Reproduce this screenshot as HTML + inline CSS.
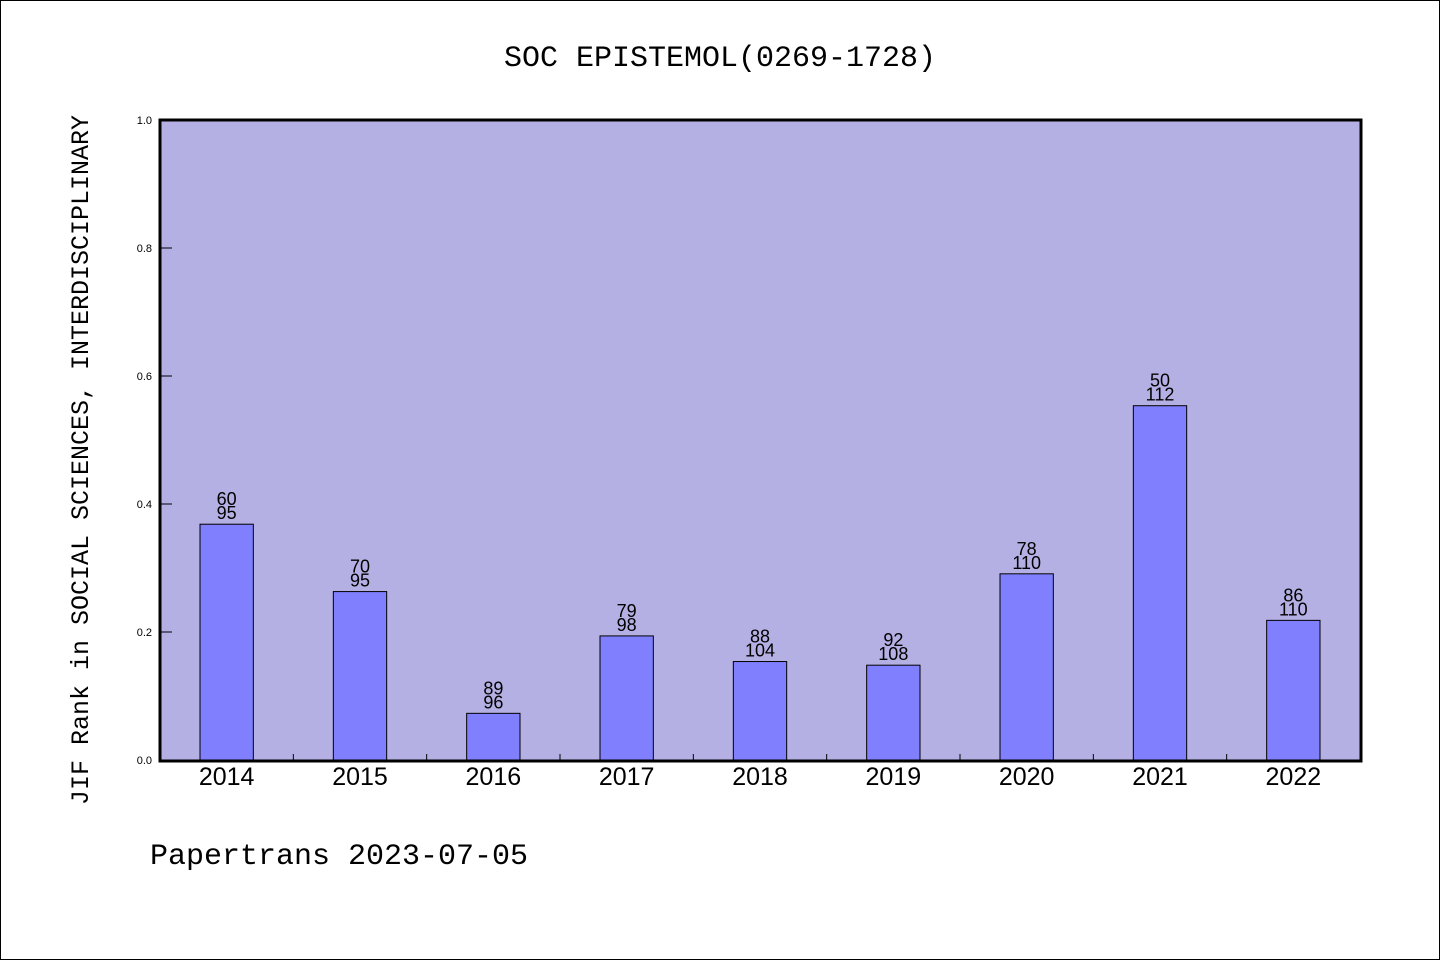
<!DOCTYPE html>
<html><head><meta charset="utf-8"><style>
body{margin:0;background:#fff;}
svg{display:block;font-family:"Liberation Mono","DejaVu Sans Mono",monospace;}
</style></head><body>
<svg width="1440" height="960" xmlns="http://www.w3.org/2000/svg">
<rect x="0.5" y="0.5" width="1439" height="959" fill="#fff" stroke="#000" stroke-width="1"/>
<text x="720" y="66" text-anchor="middle" font-size="30" fill="#000">SOC EPISTEMOL(0269-1728)</text>
<rect x="160" y="120" width="1201" height="641" fill="#b5b0e3"/>
<g id="bars"></g>
<rect x="160" y="120" width="1201" height="641" fill="none" stroke="#000" stroke-width="3"/>
<text transform="translate(88,460) rotate(-90)" text-anchor="middle" font-size="25" fill="#000">JIF Rank in SOCIAL SCIENCES, INTERDISCIPLINARY</text>
<text x="150" y="864" font-size="30" fill="#000">Papertrans 2023-07-05</text>
</svg>
<script>
const years=["2014","2015","2016","2017","2018","2019","2020","2021","2022"];
const ranks=[60,70,89,79,88,92,78,50,86];
const totals=[95,95,96,98,104,108,110,112,110];
const yTicks=[0,0.2,0.4,0.6,0.8,1.0];
const NS="http://www.w3.org/2000/svg";
const g=document.getElementById('bars');
const L=160,R=1360,T=120,B=760;
const band=(R-L)/years.length;
const xc=i=>L+band*(i+0.5);
const y=v=>B-v*(B-T);
function mk(tag,attrs,parent){const e=document.createElementNS(NS,tag);for(const k in attrs)e.setAttribute(k,attrs[k]);(parent||g).appendChild(e);return e;}
yTicks.forEach(t=>{
 const l=mk('line',{x1:L,x2:L+12,y1:y(t),y2:y(t),stroke:'#000','stroke-width':1});
 
 
 const tx=mk('text',{x:152,y:y(t)+4,'text-anchor':'end','font-size':11,'font-family':'Liberation Sans, sans-serif'});
 tx.textContent=t.toFixed(1);
 
 
});
years.forEach((yr,i)=>{
 const v=1-ranks[i]/totals[i];
 const bw=band*0.4;
 const r=mk('rect',{x:xc(i)-bw/2,y:y(v),width:bw,height:B-y(v),fill:'#8080ff',stroke:'#000','stroke-width':1});
 
 
 const a=mk('text',{x:xc(i),y:y(v)-19,'text-anchor':'middle','font-size':18,'font-family':'Liberation Sans, sans-serif'});
 a.textContent=ranks[i];
 
 
 const b=mk('text',{x:xc(i),y:y(v)-5,'text-anchor':'middle','font-size':18,'font-family':'Liberation Sans, sans-serif'});
 b.textContent=totals[i];
 
 
 const xl=mk('text',{x:xc(i),y:785,'text-anchor':'middle','font-size':25,'font-family':'Liberation Sans, sans-serif'});
 xl.textContent=yr;
 
 
 if(i>0){
  const tk=mk('line',{x1:L+band*i,x2:L+band*i,y1:B,y2:B-6,stroke:'#000','stroke-width':1});
  
  
 }
});
</script>
</body></html>
